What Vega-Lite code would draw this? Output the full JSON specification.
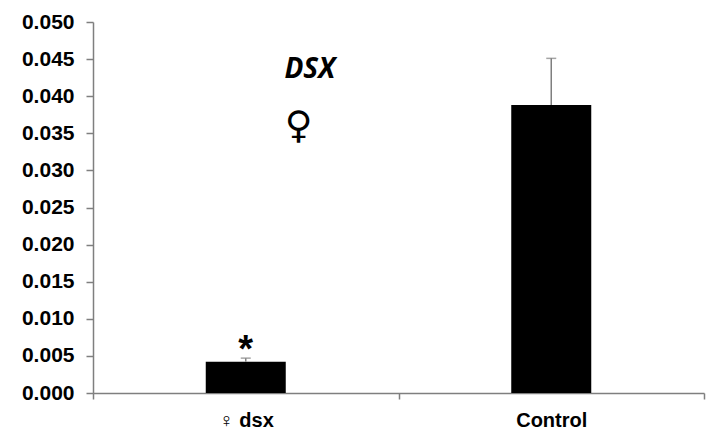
{
  "$schema": "https://vega.github.io/schema/vega-lite/v6.json",
  "width": 611,
  "height": 371,
  "autosize": "none",
  "padding": {"left": 93, "top": 22, "right": 11, "bottom": 44},
  "background": "white",
  "config": {
    "view": {"stroke": null},
    "axisX": {
      "labelAngle": 0,
      "labelFont": "Liberation Sans",
      "labelFontWeight": "bold",
      "labelFontSize": 20,
      "labelColor": "black",
      "labelPadding": 11,
      "tickBand": "extent",
      "tickSize": 6,
      "tickColor": "#7f7f7f",
      "tickWidth": 1.5,
      "domainColor": "#7f7f7f",
      "domainWidth": 1.5
    }
  },
  "datasets": {
    "bars": [
      {"group": "♀ dsx", "value": 0.0042, "upper": 0.0047},
      {"group": "Control", "value": 0.0388, "upper": 0.0451}
    ],
    "notes": [
      {"group": "♀ dsx", "value": 0.0435, "label": "DSX", "kind": "title"},
      {"group": "♀ dsx", "value": 0.0359, "label": "♀", "kind": "symbol"},
      {"group": "♀ dsx", "value": 0.0069, "label": "*", "kind": "star"}
    ]
  },
  "encoding": {
    "x": {
      "field": "group",
      "type": "nominal",
      "sort": ["♀ dsx", "Control"],
      "scale": {"paddingInner": 0, "paddingOuter": 0},
      "axis": {"title": null}
    },
    "y": {
      "field": "value",
      "type": "quantitative",
      "scale": {"domain": [0, 0.05], "nice": false, "zero": true},
      "axis": {
        "title": null,
        "values": [0, 0.005, 0.01, 0.015, 0.02, 0.025, 0.03, 0.035, 0.04, 0.045, 0.05],
        "format": ".3f",
        "grid": false,
        "labelOverlap": false,
        "labelFont": "Liberation Sans",
        "labelFontWeight": "bold",
        "labelFontSize": 21,
        "labelColor": "black",
        "labelPadding": 12,
        "tickSize": 7,
        "tickColor": "#7f7f7f",
        "tickWidth": 1.5,
        "domainColor": "#7f7f7f",
        "domainWidth": 1.5
      }
    }
  },
  "layer": [
    {
      "data": {"name": "bars"},
      "mark": {"type": "bar", "size": 80, "color": "black"}
    },
    {
      "data": {"name": "bars"},
      "mark": {"type": "rule", "color": "#7f7f7f", "strokeWidth": 1.5},
      "encoding": {
        "y2": {"field": "upper"}
      }
    },
    {
      "data": {"name": "bars"},
      "mark": {"type": "tick", "color": "#7f7f7f", "size": 10, "thickness": 1.5},
      "encoding": {
        "y": {"field": "upper", "type": "quantitative"}
      }
    },
    {
      "data": {"name": "notes"},
      "transform": [{"filter": "datum.kind == 'title'"}],
      "mark": {"type": "text", "font": "Open Sans", "fontStyle": "italic", "fontWeight": "bold", "fontSize": 28, "dx": 64, "baseline": "middle", "color": "black"},
      "encoding": {
        "text": {"field": "label"}
      }
    },
    {
      "data": {"name": "notes"},
      "transform": [{"filter": "datum.kind == 'symbol'"}],
      "mark": {"type": "text", "font": "DejaVu Sans", "fontWeight": "bold", "fontSize": 38, "dx": 53, "baseline": "middle", "color": "black"},
      "encoding": {
        "text": {"field": "label"}
      }
    },
    {
      "data": {"name": "notes"},
      "transform": [{"filter": "datum.kind == 'star'"}],
      "mark": {"type": "text", "font": "Liberation Sans", "fontWeight": "bold", "fontSize": 38, "baseline": "middle", "dy": 9, "color": "black"},
      "encoding": {
        "text": {"field": "label"}
      }
    }
  ]
}
